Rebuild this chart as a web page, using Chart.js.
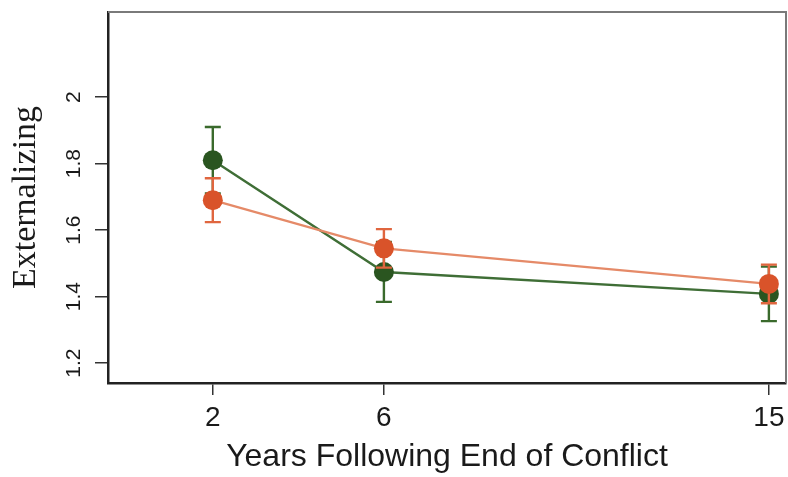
<!DOCTYPE html>
<html>
<head>
<meta charset="utf-8">
<script src="https://cdn.jsdelivr.net/npm/chart.js@4/dist/chart.umd.min.js"></script>
<style>
  html, body { margin: 0; padding: 0; background: #ffffff; }
  #wrap { width: 788px; height: 477px; position: relative; }
</style>
</head>
<body>
<div id="wrap"><canvas id="c" width="788" height="477"></canvas></div>
<script>
// ---- data ----
const years = [2, 6, 15];
const orangeMean = [1.69, 1.545, 1.438];
const orangeErr = [0.066, 0.058, 0.058];
const greenMean = [1.81, 1.474, 1.408];
const greenErr = [0.10, 0.09, 0.082];
const yTicks = [1.2, 1.4, 1.6, 1.8, 2];
const xTicks = [2, 6, 15];
const xTitle = 'Years Following End of Conflict';
const yTitle = 'Externalizing';

const toPts = (xs, ys) => xs.map((x, i) => ({ x: x, y: ys[i] }));

const errorBars = {
  id: 'errorBars',
  beforeDatasetDraw(chart, args) {
    const ds = chart.data.datasets[args.index];
    if (!ds.err) return;
    const xs = chart.scales.x, ys = chart.scales.y, ctx = chart.ctx;
    ctx.save();
    ctx.strokeStyle = ds.errColor;
    ctx.lineWidth = 2.4;
    ds.data.forEach((p, i) => {
      const px = xs.getPixelForValue(p.x);
      const top = ys.getPixelForValue(p.y + ds.err[i]);
      const bot = ys.getPixelForValue(p.y - ds.err[i]);
      const cw = 8;
      ctx.beginPath();
      ctx.moveTo(px, top); ctx.lineTo(px, bot);
      ctx.moveTo(px - cw, top); ctx.lineTo(px + cw, top);
      ctx.moveTo(px - cw, bot); ctx.lineTo(px + cw, bot);
      ctx.stroke();
    });
    ctx.restore();
  }
};

const frame = {
  id: 'frame',
  afterDraw(chart) {
    const a = chart.chartArea, ctx = chart.ctx;
    ctx.save();
    ctx.strokeStyle = '#7a7a7a';
    ctx.lineWidth = 2;
    ctx.beginPath();
    ctx.moveTo(a.left, a.top);
    ctx.lineTo(a.right, a.top);
    ctx.lineTo(a.right, a.bottom);
    ctx.stroke();
    ctx.restore();
  }
};

new Chart(document.getElementById('c'), {
  type: 'line',
  data: {
    datasets: [
      {
        label: 'Orange',
        data: toPts(years, orangeMean),
        err: orangeErr,
        errColor: '#e0663f',
        borderColor: '#e58a68',
        borderWidth: 2.2,
        backgroundColor: '#d9532a',
        pointBackgroundColor: '#d9532a',
        pointBorderColor: '#d9532a',
        pointRadius: 10,
        pointBorderWidth: 0,
        tension: 0
      },
      {
        label: 'Green',
        data: toPts(years, greenMean),
        err: greenErr,
        errColor: '#3a6a2c',
        borderColor: '#3f6e36',
        borderWidth: 2.4,
        backgroundColor: '#2a5520',
        pointBackgroundColor: '#2a5520',
        pointBorderColor: '#2a5520',
        pointRadius: 10,
        pointBorderWidth: 0,
        tension: 0
      }
    ]
  },
  options: {
    responsive: false,
    animation: false,
    layout: { autoPadding: false, padding: { top: 12, right: 2, left: 0, bottom: 0 } },
    plugins: { legend: { display: false }, tooltip: { enabled: false } },
    scales: {
      x: {
        type: 'linear',
        min: -0.45,
        max: 15.4,
        afterBuildTicks(scale) { scale.ticks = xTicks.map(v => ({ value: v })); },
        afterFit(scale) { scale.height = 94; scale.paddingLeft = 0; scale.paddingRight = 0; },
        border: { display: true, color: '#222', width: 2.5 },
        grid: { drawOnChartArea: false, drawTicks: true, tickLength: 12, color: '#333', lineWidth: 1.5 },
        ticks: {
          color: '#1a1a1a',
          padding: 6,
          font: { family: "'Liberation Sans', Arial, sans-serif", size: 28 },
          maxRotation: 0,
          callback: v => String(v)
        },
        title: {
          display: true,
          text: xTitle,
          color: '#1a1a1a',
          font: { family: "'Liberation Sans', Arial, sans-serif", size: 32 },
          padding: { top: 0, bottom: 1 }
        }
      },
      y: {
        type: 'linear',
        min: 1.14,
        max: 2.256,
        afterBuildTicks(scale) { scale.ticks = yTicks.map(v => ({ value: v })); },
        afterFit(scale) { scale.width = 108; scale.paddingTop = 0; scale.paddingBottom = 0; },
        border: { display: true, color: '#222', width: 2.5 },
        grid: { drawOnChartArea: false, drawTicks: true, tickLength: 13, color: '#333', lineWidth: 1.5 },
        ticks: {
          color: '#1a1a1a',
          padding: 6,
          minRotation: 90,
          maxRotation: 90,
          crossAlign: 'center',
          font: { family: "'Liberation Sans', Arial, sans-serif", size: 21 },
          callback: v => String(v)
        },
        title: {
          display: true,
          text: yTitle,
          color: '#1a1a1a',
          font: { family: "'Liberation Serif', 'Times New Roman', serif", size: 34 },
          padding: { top: 6, bottom: 0 }
        }
      }
    }
  },
  plugins: [errorBars, frame]
});
</script>
</body>
</html>
